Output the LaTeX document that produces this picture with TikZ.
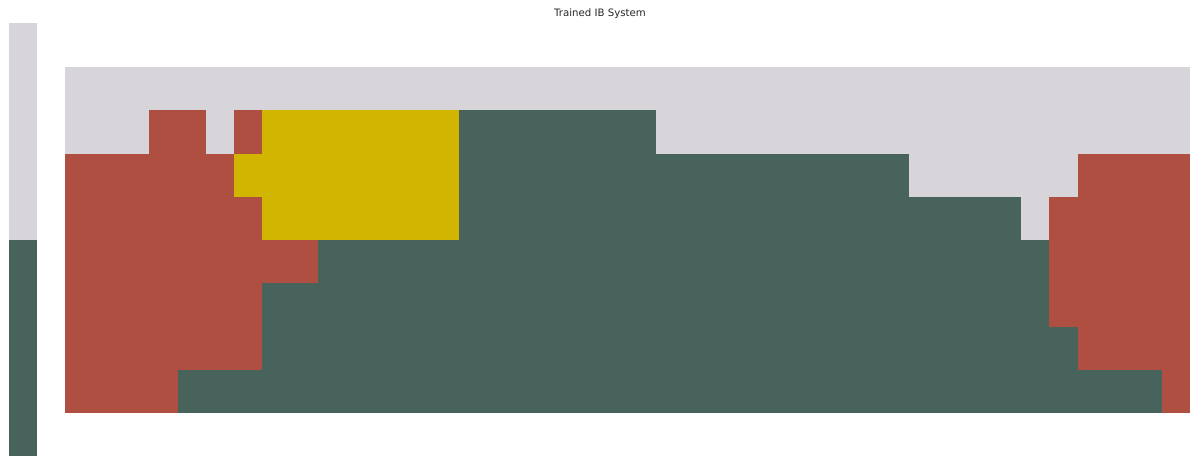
\documentclass[tikz,border=0pt]{standalone}
\usepackage{fontspec}
\setmainfont{DejaVu Sans}
\definecolor{ibgray}{HTML}{D7D5DA}
\definecolor{ibred}{HTML}{AF4F42}
\definecolor{ibyellow}{HTML}{D2B500}
\definecolor{ibgreen}{HTML}{48635C}
\newcommand\gcell[4]{\fill[#4] ({65+#1*28.125},{67+#3*43.25}) rectangle ({65+#2*28.125},{67+(#3+1)*43.25});}
\begin{document}
\begin{tikzpicture}[x=1pt,y=-1pt]
\useasboundingbox (0,0) rectangle (1200,466);
% colorbar
\fill[ibgray] (9,23) rectangle (37,240);
\fill[ibgreen] (9,240) rectangle (37,456);
% title
\node[font=\fontsize{10.2}{12}\selectfont, text=black!85] (title) at (600,14) {Trained IB System};
% row 0
\gcell{0}{40}{0}{ibgray}
% row 1
\gcell{0}{3}{1}{ibgray}
\gcell{3}{5}{1}{ibred}
\gcell{5}{6}{1}{ibgray}
\gcell{6}{7}{1}{ibred}
\gcell{7}{14}{1}{ibyellow}
\gcell{14}{21}{1}{ibgreen}
\gcell{21}{40}{1}{ibgray}
% row 2
\gcell{0}{6}{2}{ibred}
\gcell{6}{14}{2}{ibyellow}
\gcell{14}{30}{2}{ibgreen}
\gcell{30}{36}{2}{ibgray}
\gcell{36}{40}{2}{ibred}
% row 3
\gcell{0}{7}{3}{ibred}
\gcell{7}{14}{3}{ibyellow}
\gcell{14}{34}{3}{ibgreen}
\gcell{34}{35}{3}{ibgray}
\gcell{35}{40}{3}{ibred}
% row 4
\gcell{0}{9}{4}{ibred}
\gcell{9}{35}{4}{ibgreen}
\gcell{35}{40}{4}{ibred}
% row 5
\gcell{0}{7}{5}{ibred}
\gcell{7}{35}{5}{ibgreen}
\gcell{35}{40}{5}{ibred}
% row 6
\gcell{0}{7}{6}{ibred}
\gcell{7}{36}{6}{ibgreen}
\gcell{36}{40}{6}{ibred}
% row 7
\gcell{0}{4}{7}{ibred}
\gcell{4}{39}{7}{ibgreen}
\gcell{39}{40}{7}{ibred}
\end{tikzpicture}
\end{document}
